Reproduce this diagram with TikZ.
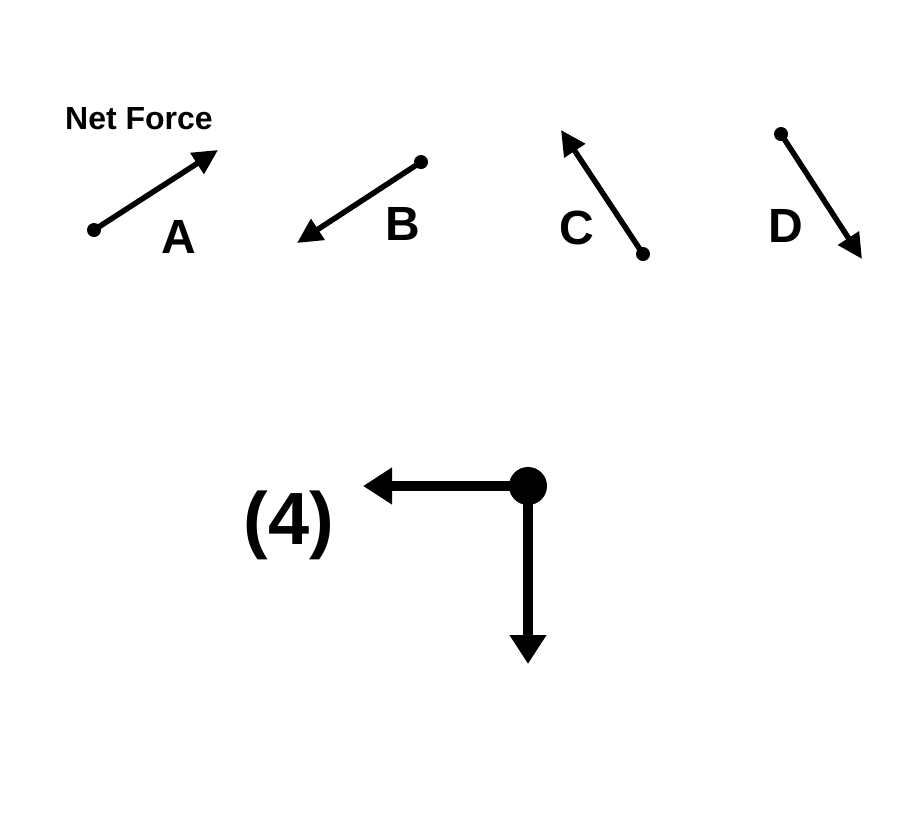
\documentclass[tikz,border=0pt]{standalone}
\usepackage{fontspec}
\setmainfont{Liberation Sans}
\usetikzlibrary{arrows.meta}
\begin{document}
\begin{tikzpicture}[x=1pt,y=-1pt,
				dot/.style={circle,fill,inner sep=0pt,minimum size=14pt},
				bigdot/.style={circle,fill,inner sep=0pt,minimum size=38pt},
				force/.style={line width=5.5pt,-{Triangle[length=25pt,width=24pt]}},
				bigforce/.style={line width=10pt,-{Triangle[length=29pt,width=35pt]}},
				letter/.style={font=\bfseries\fontsize{48}{48}\selectfont},
				title/.style={font=\bfseries\fontsize{32}{32}\selectfont}]
\useasboundingbox (0,0) rectangle (911,815);
% top row of net forces
\node[title] (net) at (139,119) {Net Force};
\node[dot] (a0) at (94,230) {};
\coordinate (a1) at (218,150);
\node[letter] (la) at (179,237) {A};
\node[dot] (b0) at (421,162) {};
\coordinate (b1) at (297,243);
\node[letter] (lb) at (403,224) {B};
\node[dot] (c0) at (643,254) {};
\coordinate (c1) at (561,130);
\node[letter] (lc) at (577,228) {C};
\node[dot] (d0) at (781,134) {};
\coordinate (d1) at (862,259);
\node[letter] (ld) at (786,226) {D};
\draw[force] (a0.center) -- (a1);
\draw[force] (b0.center) -- (b1);
\draw[force] (c0.center) -- (c1);
\draw[force] (d0.center) -- (d1);
% case (4)
\node[font=\bfseries\fontsize{74}{74}\selectfont] (four) at (289,525) {(4)};
\node[bigdot] (o) at (528,486) {};
\coordinate (left) at (363,486);
\coordinate (down) at (528,664);
\draw[bigforce] (o.center) -- (left);
\draw[bigforce] (o.center) -- (down);
\end{tikzpicture}
\end{document}
